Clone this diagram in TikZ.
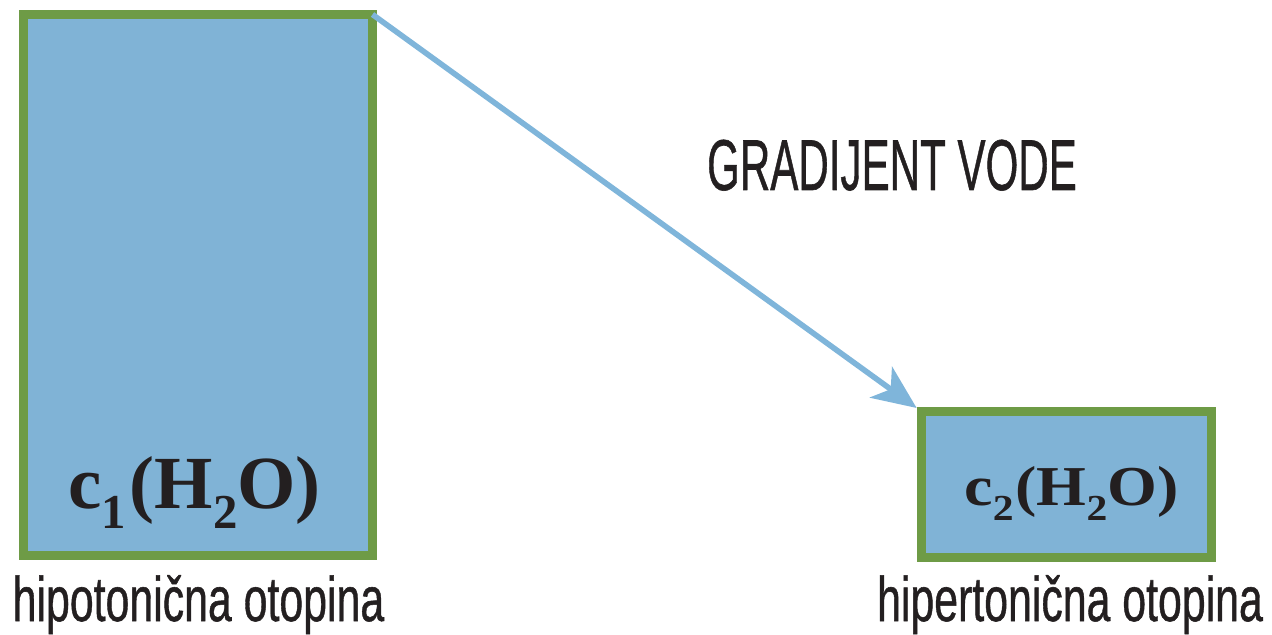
\documentclass[tikz,border=0pt]{standalone}
\usepackage{fontspec}
\setmainfont{Liberation Serif}
\newfontfamily\labelfont[FakeBold=0.9]{Liberation Sans}
\usetikzlibrary{arrows.meta}

\definecolor{waterfill}{HTML}{80B3D6}
\definecolor{boxedge}{HTML}{6E9B46}
\definecolor{flowblue}{HTML}{7FB5DA}
\definecolor{ink}{HTML}{231F20}

% lowered, reduced index digit
\newcommand\idx[1]{\raisebox{-0.27em}{\scalebox{0.65}{#1}}}

\begin{document}
\begin{tikzpicture}[x=0.5pt,y=-0.5pt,
  vessel/.style={draw=boxedge, fill=waterfill, line width=4.5pt,
    rectangle, outer sep=0pt, inner sep=0pt},
  caption/.style={anchor=base, inner sep=0pt, text=ink,
    font=\labelfont\fontsize{31.5pt}{36pt}\selectfont},
  formula/.style={anchor=base, inner sep=0pt, text=ink},
  flow/.style={draw=flowblue, line width=2.8pt,
    -{Stealth[length=22pt,width=19pt,inset=6pt]}}
]
\useasboundingbox (0,0) rectangle (1272,635);

% two solutions
\node[vessel, minimum width=174.5pt, minimum height=270.5pt] (hypo) at (198,285) {};
\node[vessel, minimum width=145pt, minimum height=73pt] (hyper) at (1066.5,484.5) {};

% water gradient arrow
\draw[flow, shorten >=3pt] (hypo.north east) -- (hyper.north west);
\node[anchor=base, inner sep=0pt, text=ink,
  font=\labelfont\fontsize{36pt}{40pt}\selectfont] (grad) at (892,190)
  {\scalebox{0.585}[1]{GRADIJENT VODE}};

% concentrations
\node[formula, font=\bfseries\fontsize{37.5pt}{40pt}\selectfont] (c1) at (194.5,508)
  {c\idx{1}\kern2pt(H\idx{2}O)};
\node[formula, font=\bfseries\fontsize{32pt}{36pt}\selectfont] (c2) at (1071.5,505)
  {\scalebox{1}[0.88]{c\idx{2}\kern1pt(H\idx{2}O)}};

% captions
\node[caption] (lhypo) at (198.5,621) {\scalebox{0.68}[1]{hipotonična otopina}};
\node[caption] (lhyper) at (1070,621) {\scalebox{0.68}[1]{hipertonična otopina}};
\end{tikzpicture}
\end{document}
